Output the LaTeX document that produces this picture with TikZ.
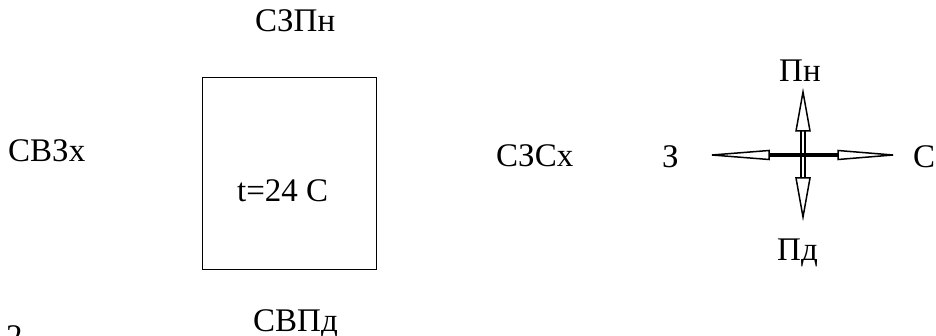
\documentclass[tikz,border=0pt]{standalone}
\usepackage{fontspec}
\setmainfont{Liberation Serif}
\begin{document}
\begin{tikzpicture}[x=1pt,y=-1pt,
  lbl/.style={inner sep=0pt, anchor=base west, font=\fontsize{33}{39}\selectfont},
  head/.style={draw=black, fill=white, line width=1.5pt, line join=miter},
  shaft/.style={line width=3.2pt},
  vshaft/.style={line width=2pt, double=white, double distance=2pt}]
\useasboundingbox (0,0) rectangle (936,336);
\clip (0,0) rectangle (936,336);
% room box
\node[draw, line width=1.4pt, minimum width=174pt, minimum height=192pt,
      inner sep=0pt, anchor=north west] (room) at (202,77) {};
\node[lbl] (temp) at (237,202) {t=24 C};
% labels around the room
\node[lbl] (north) at (255,32) {СЗПн};
\node[lbl] (west) at (8,162) {СВЗх};
\node[lbl] (south) at (253,331) {СВПд};
\node[lbl] (east) at (496,167) {СЗСх};
\node[lbl] (num) at (6,347) {2};
% compass
\coordinate (ctr) at (803,155);
\coordinate (wtip) at (712,155);
\coordinate (wbase) at (769,155);
\coordinate (etip) at (893,155);
\coordinate (ebase) at (838,155);
\coordinate (ntip) at (803,92);
\coordinate (nbase) at (803,131);
\coordinate (stip) at (803,217);
\coordinate (sbase) at (803,178);
\draw[vshaft] (nbase) -- (sbase);
\draw[shaft] (wbase) -- (ebase);
\draw[head] (wtip) -- ([yshift=-4.5pt]wbase) -- ([yshift=4.5pt]wbase) -- cycle;
\draw[head] (etip) -- ([yshift=-4.5pt]ebase) -- ([yshift=4.5pt]ebase) -- cycle;
\draw[head] (ntip) -- ([xshift=-7pt]nbase) -- ([xshift=7pt]nbase) -- cycle;
\draw[head] (stip) -- ([xshift=-7pt]sbase) -- ([xshift=7pt]sbase) -- cycle;
\node[lbl] (cw) at (662,168) {З};
\node[lbl] (ce) at (913,168) {С};
\node[lbl] (cn) at (779,82) {Пн};
\node[lbl] (cs) at (777,261) {Пд};
\end{tikzpicture}
\end{document}
